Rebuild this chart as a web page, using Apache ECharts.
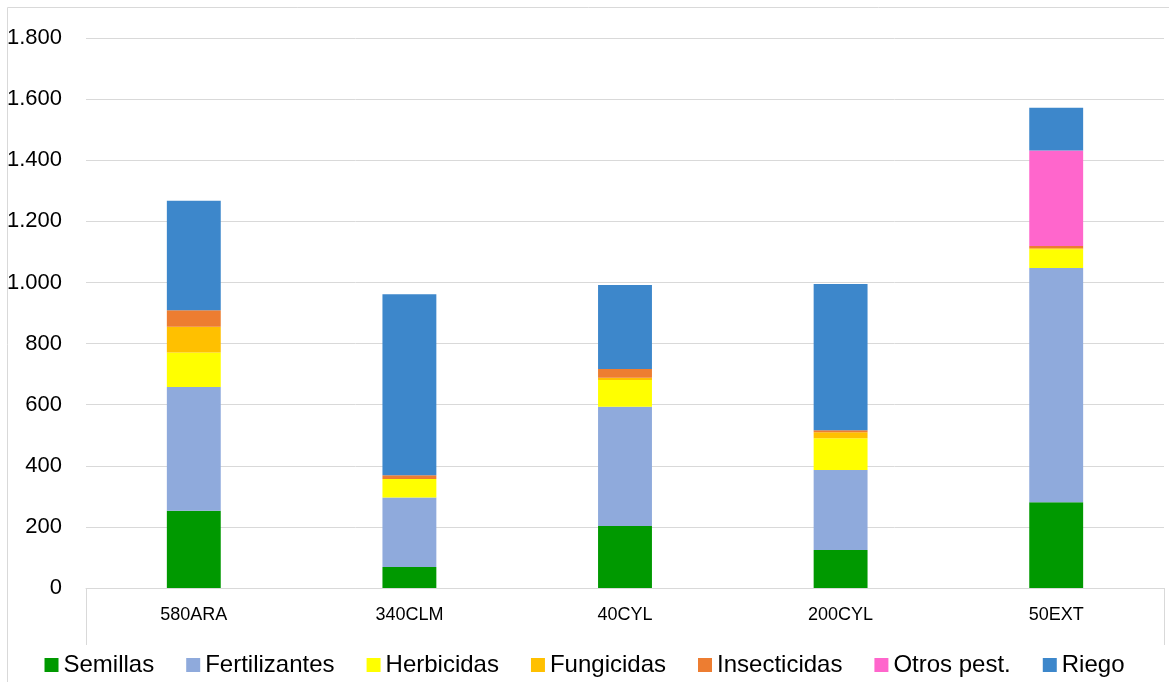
<!DOCTYPE html>
<html><head><meta charset="utf-8">
<script src="https://cdn.jsdelivr.net/npm/echarts@6/dist/echarts.min.js"></script>
<style>html,body{margin:0;padding:0;background:#fff}#c{width:1169px;height:682px}</style>
</head><body><div id="c"></div>
<script>
const categories = ['580ARA','340CLM','40CYL','200CYL','50EXT'];
const semillas      = [253, 69, 203, 124, 281];
const fertilizantes = [405, 227, 390, 262, 766];
const herbicidas    = [113, 61, 88, 104, 62];
const fungicidas    = [84, 0, 7, 20, 3];
const insecticidas  = [54, 12, 29, 6, 7];
const otrosPest     = [0, 0, 0, 0, 313];
const riego         = [358, 592, 275, 479, 140];
const seriesNames = ['Semillas','Fertilizantes','Herbicidas','Fungicidas','Insecticidas','Otros pest.','Riego'];
const seriesData = [semillas, fertilizantes, herbicidas, fungicidas, insecticidas, otrosPest, riego];
const colors = ['#009900','#8faadc','#ffff00','#ffc000','#ed7d31','#ff66cc','#3d87cb'];
const FONT = '"Liberation Sans", sans-serif';

const chart = echarts.init(document.getElementById('c'), null, {renderer:'canvas'});
chart.setOption({
  animation: false,
  color: colors,
  grid: {left: 86, right: 5, top: 38, bottom: 94, containLabel: false},
  legend: {
    top: 653, left: 'center', itemWidth: 14, itemHeight: 14, itemGap: 32,
    icon: 'rect', padding: 0,
    textStyle: {fontFamily: FONT, fontSize: 24, color: '#000'},
    data: seriesNames
  },
  xAxis: {
    type: 'category', data: categories,
    axisLine: {lineStyle: {color: '#d9d9d9'}},
    axisTick: {show: false},
    axisLabel: {fontFamily: FONT, fontSize: 18, color: '#000', margin: 18}
  },
  yAxis: {
    type: 'value', min: 0, max: 1800, interval: 200,
    axisLine: {show: false}, axisTick: {show: false},
    splitLine: {lineStyle: {color: '#d9d9d9'}},
    axisLabel: {fontFamily: FONT, fontSize: 22, color: '#000', margin: 24,
      formatter: v => v >= 1000 ? Math.floor(v/1000) + '.' + String(v%1000).padStart(3,'0') : String(v)}
  },
  graphic: [
    {type:'line', shape:{x1:7.5,y1:7.5,x2:1169,y2:7.5}, style:{stroke:'#d9d9d9',lineWidth:1}, silent:true},
    {type:'line', shape:{x1:7.5,y1:7.5,x2:7.5,y2:682}, style:{stroke:'#d9d9d9',lineWidth:1}, silent:true},
    {type:'line', shape:{x1:86.5,y1:588,x2:86.5,y2:645}, style:{stroke:'#d9d9d9',lineWidth:1}, silent:true},
    {type:'line', shape:{x1:1164.5,y1:588,x2:1164.5,y2:645}, style:{stroke:'#d9d9d9',lineWidth:1}, silent:true}
  ],
  series: seriesNames.map((n, i) => ({
    name: n, type: 'bar', stack: 'total', barWidth: '25%',
    data: seriesData[i], itemStyle: {color: colors[i]}
  }))
});
</script></body></html>
